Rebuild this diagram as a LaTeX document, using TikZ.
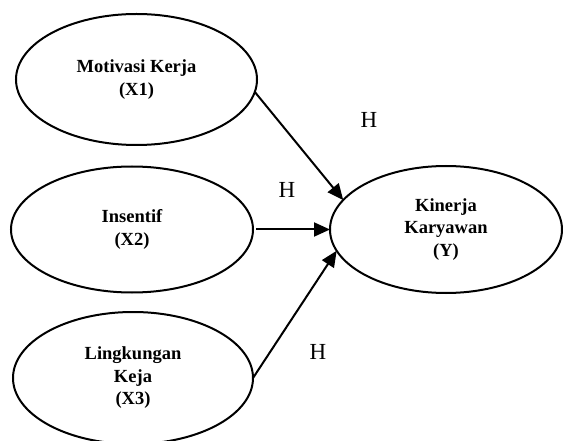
\documentclass[tikz,border=0pt]{standalone}
\usepackage{fontspec}
\setmainfont{Liberation Serif}
\usetikzlibrary{shapes.geometric,arrows.meta}
\begin{document}
\begin{tikzpicture}[x=1pt,y=-1pt,
  var/.style={draw,ellipse,line width=2pt,inner sep=0pt,outer sep=0pt,align=center,
    font=\fontsize{18.5}{22.5}\selectfont\bfseries},
  arr/.style={line width=2pt,-{Triangle[length=16pt,width=14pt]}},
  hlab/.style={font=\fontsize{23}{26}\selectfont}]
\useasboundingbox (0,0) rectangle (563,441);
\node[var,minimum width=241pt,minimum height=131pt] (x1) at (136.5,79.5) {Motivasi Kerja\\(X1)};
\node[var,minimum width=242pt,minimum height=126pt] (x2) at (132,229.5) {Insentif\\(X2)};
\node[var,minimum width=240pt,minimum height=132pt] (x3) at (133,378) {Lingkungan\\Keja\\(X3)};
\node[var,minimum width=232pt,minimum height=127pt] (y) at (446,229.5) {Kinerja\\Karyawan\\(Y)};
\draw[arr] (x1.-6) -- (y.164);
\draw[arr,shorten <=3pt] (x2.east) -- (y.west);
\draw[arr] (x3.east) -- (y.-169);
\node[hlab] (h1) at (369,120) {H};
\node[hlab] (h2) at (287,190) {H};
\node[hlab] (h3) at (318,352) {H};
\end{tikzpicture}
\end{document}
